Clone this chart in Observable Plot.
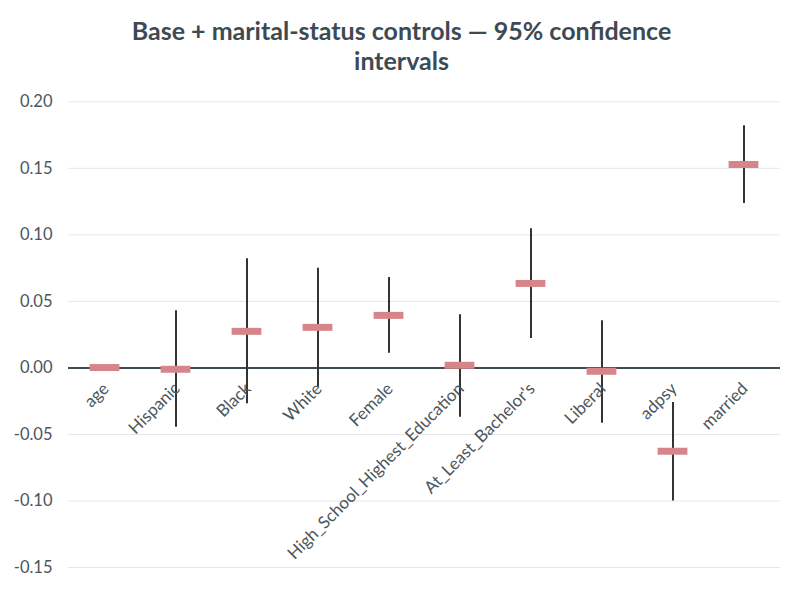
<!DOCTYPE html>
<html>
<head>
<meta charset="utf-8">
<script src="https://cdn.jsdelivr.net/npm/d3@7"></script>
<script src="https://cdn.jsdelivr.net/npm/@observablehq/plot@0.6"></script>
<style>
  html, body { margin: 0; padding: 0; background: #fff; }
  #title { width: 803px; height: 80px; box-sizing: border-box; padding-top: 16px;
    text-align: center; font-family: Lato, sans-serif; font-weight: bold; font-size: 25px;
    line-height: 29.5px; color: #3d4a53; }
</style>
</head>
<body>
<div id="title">Base + marital-status controls — 95% confidence<br>intervals</div>
<div id="chart"></div>
<script>
const terms = ["age", "Hispanic", "Black", "White", "Female", "High_School_Highest_Education",
  "At_Least_Bachelor's", "Liberal", "adpsy", "married"];
const estimates = [0.0003, -0.001, 0.0275, 0.0305, 0.0395, 0.002, 0.0635, -0.0025, -0.0626, 0.1529];
const lower = [-0.0005, -0.0446, -0.027, -0.0146, 0.011, -0.037, 0.0222, -0.0416, -0.100, 0.1236];
const upper = [0.0011, 0.043, 0.082, 0.075, 0.068, 0.040, 0.1046, 0.0355, -0.026, 0.182];
const yTicks = [-0.15, -0.10, -0.05, 0.00, 0.05, 0.10, 0.15, 0.20];

const data = terms.map((t, i) => ({term: t, est: estimates[i], lo: lower[i], hi: upper[i]}));
const fmt = d => d3.format(".2f")(d).replace("−", "-");

const chart = Plot.plot({
  width: 803,
  height: 512,
  marginTop: 8,
  marginBottom: 5,
  marginLeft: 68,
  marginRight: 23,
  style: {fontFamily: "Lato, sans-serif", fontSize: "16.5px", color: "#4b565d", background: "#fff"},
  x: {type: "band", domain: terms, axis: null, padding: 0},
  y: {domain: [-0.165, 0.21], ticks: yTicks, tickFormat: fmt, tickSize: 0, tickPadding: 16, label: null},
  marks: [
    Plot.ruleY(yTicks.filter(d => d !== 0), {stroke: "#e6e6e6", strokeWidth: 1}),
    Plot.ruleY([0], {stroke: "#3f4b53", strokeWidth: 2}),
    Plot.ruleX(data, {x: "term", y1: "lo", y2: "hi", stroke: "#333333", strokeWidth: 2}),
    Plot.tickY(data, {x: "term", y: "est", stroke: "#d6868b", strokeWidth: 7, insetLeft: 20.6, insetRight: 20.6}),
    Plot.text(terms, {x: d => d, y: () => 0, text: d => d, rotate: -45, textAnchor: "end",
      dx: 1, dy: 18, fontSize: 17, fill: "#4b565d"})
  ]
});
document.getElementById("chart").appendChild(chart);
</script>
</body>
</html>
